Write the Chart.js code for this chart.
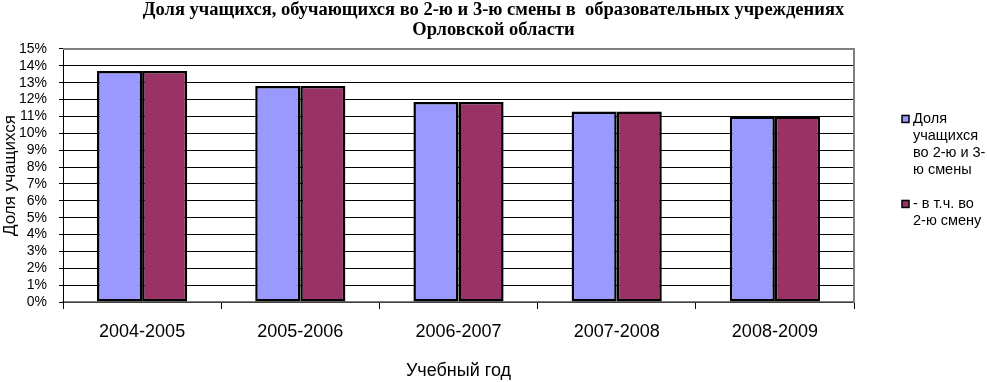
<!DOCTYPE html>
<html>
<head>
<meta charset="utf-8">
<script src="https://cdn.jsdelivr.net/npm/chart.js@4.4.0/dist/chart.umd.min.js"></script>
<style>
  html, body { margin: 0; padding: 0; background: #fff; }
</style>
</head>
<body>
<canvas id="chart" width="987" height="382"></canvas>
<script>
// data
const categories = ['2004-2005', '2005-2006', '2006-2007', '2007-2008', '2008-2009']
const seriesNames = ['Доля учащихся во 2-ю и 3-ю смены', '- в т.ч. во 2-ю смену']
const legendLines = [
  ['Доля', 'учащихся', 'во 2-ю и 3-', 'ю смены'],
  ['- в т.ч. во', '2-ю смену'],
]
const shareShifts = [13.7, 12.8, 11.85, 11.3, 11.0]
const shareSecondShift = [13.7, 12.8, 11.85, 11.3, 11.0]
const seriesColors = ['#9999FF', '#993366']
const titleLines = [
  'Доля учащихся, обучающихся во 2-ю и 3-ю смены в  образовательных учреждениях',
  'Орловской области',
]

Chart.defaults.font.family = '"Liberation Sans", Arial, sans-serif'
Chart.defaults.color = '#000'

// legend on the right, drawn as a layout box so the title stays centred on the canvas
const sideLegend = {
  id: 'sideLegend',
  beforeInit(chart) {
    const box = {
      position: 'right',
      weight: 1000,
      fullSize: false,
      options: {},
      isHorizontal() { return false },
      update(maxWidth, maxHeight) {
        this.width = 133
        this.height = maxHeight
      },
      draw() {
        const ctx = chart.ctx
        const lineH = 17
        let y = this.top + 70
        ctx.save()
        ctx.font = '14.5px "Liberation Sans", Arial, sans-serif'
        ctx.textBaseline = 'middle'
        chart.data.datasets.forEach((ds, i) => {
          ctx.fillStyle = ds.backgroundColor
          ctx.fillRect(this.left + 48, y - 3.5, 7, 7)
          ctx.strokeStyle = '#000'
          ctx.lineWidth = 1.5
          ctx.strokeRect(this.left + 48, y - 3.5, 7, 7)
          ctx.fillStyle = '#000'
          legendLines[i].forEach((line) => {
            ctx.fillText(line, this.left + 59, y)
            y += lineH
          })
          y += lineH
        })
        ctx.restore()
      },
    }
    Chart.layouts.addBox(chart, box)
  },
}

// grey plot-area frame (top and right)
const plotFrame = {
  id: 'plotFrame',
  beforeDatasetsDraw(chart) {
    const { ctx, chartArea: a } = chart
    ctx.save()
    ctx.strokeStyle = '#808080'
    ctx.lineWidth = 2
    ctx.beginPath()
    ctx.moveTo(a.left, a.top)
    ctx.lineTo(a.right, a.top)
    ctx.lineTo(a.right, a.bottom)
    ctx.stroke()
    ctx.restore()
  },
}

new Chart(document.getElementById('chart'), {
  type: 'bar',
  data: {
    labels: categories,
    datasets: [
      {
        label: seriesNames[0],
        data: shareShifts,
        backgroundColor: seriesColors[0],
        borderColor: '#000',
        borderWidth: 2.5,
        borderSkipped: false,
      },
      {
        label: seriesNames[1],
        data: shareSecondShift,
        backgroundColor: seriesColors[1],
        borderColor: '#000',
        borderWidth: 2.5,
        borderSkipped: false,
      },
    ],
  },
  options: {
    responsive: false,
    animation: false,
    datasets: {
      bar: { categoryPercentage: 0.57, barPercentage: 1 },
    },
    layout: { padding: 0 },
    plugins: {
      legend: { display: false },
      tooltip: { enabled: false },
      title: {
        display: true,
        text: titleLines,
        font: { family: '"Liberation Serif", "Times New Roman", serif', weight: 'bold', size: 18.5, lineHeight: 1.08 },
        padding: { top: 0, bottom: 9 },
        color: '#000',
      },
    },
    scales: {
      x: {
        afterFit(scale) { scale.height = 80 },
        grid: {
          drawOnChartArea: false,
          drawTicks: true,
          tickLength: 7,
          color: '#000',
          offset: true,
        },
        border: { color: '#808080', width: 1.5 },
        ticks: { font: { size: 18 }, padding: 12, maxRotation: 0 },
        title: {
          display: true,
          text: 'Учебный год',
          font: { size: 18 },
          padding: 0,
        },
      },
      y: {
        min: 0,
        max: 15,
        afterFit(scale) { scale.width = 63 },
        ticks: {
          stepSize: 1,
          autoSkip: false,
          font: { size: 14 },
          padding: 12,
          callback: (v) => v + '%',
        },
        grid: { color: '#000', lineWidth: 1, tickLength: 4 },
        border: { color: '#000', width: 1 },
        title: {
          display: true,
          text: 'Доля учащихся',
          font: { size: 17 },
          padding: 0,
        },
      },
    },
  },
  plugins: [sideLegend, plotFrame],
})
</script>
</body>
</html>
